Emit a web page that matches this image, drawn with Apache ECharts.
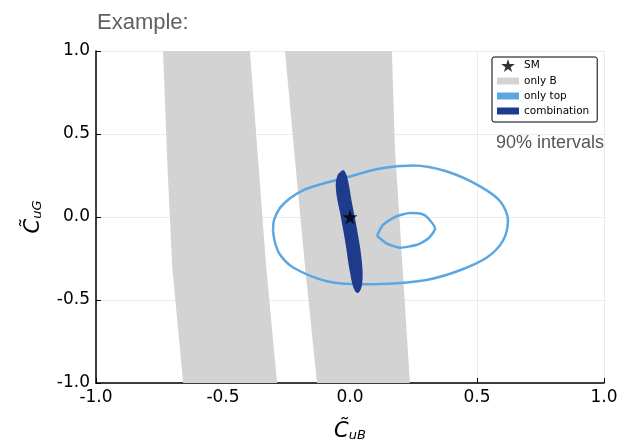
<!DOCTYPE html>
<html>
<head>
<meta charset="utf-8">
<script src="https://cdn.jsdelivr.net/npm/echarts@6/dist/echarts.min.js"></script>
<style>
  html, body { margin: 0; padding: 0; background: #fff; }
  #chart { width: 624px; height: 447px; }
</style>
</head>
<body>
<div id="chart"></div>
<script>
// tick values on both axes
var ticks = [-1.0, -0.5, 0.0, 0.5, 1.0];

// "only B" allowed regions (two slanted bands), outline vertices [x, y]
var bandLeft = [
    [-0.736, 1.0], [-0.720, 0.351], [-0.700, -0.300], [-0.657, -1.0],
    [-0.287, -1.0], [-0.330, -0.300], [-0.362, 0.351], [-0.394, 1.0]
];
var bandRight = [
    [-0.256, 1.0], [-0.217, 0.351], [-0.177, -0.300], [-0.130, -1.0],
    [0.236, -1.0], [0.197, -0.065], [0.177, 0.410], [0.165, 1.0]
];

// "only top" 90% contours
var topOuter = [
    [-0.303, -0.083], [-0.299, -0.018], [-0.276, 0.054], [-0.236, 0.113],
    [-0.185, 0.161], [-0.118, 0.196], [-0.028, 0.232], [0.118, 0.292],
    [0.248, 0.310], [0.382, 0.274], [0.512, 0.185], [0.591, 0.095],
    [0.622, -0.018], [0.602, -0.143], [0.539, -0.244], [0.433, -0.321],
    [0.315, -0.375], [0.185, -0.399], [0.039, -0.405], [-0.091, -0.387],
    [-0.224, -0.304], [-0.276, -0.226], [-0.295, -0.155], [-0.303, -0.083]
];
var topInner = [
    [0.106, -0.113], [0.130, -0.048], [0.177, 0.000], [0.236, 0.024],
    [0.283, 0.018], [0.307, -0.006], [0.335, -0.071], [0.307, -0.131],
    [0.264, -0.167], [0.197, -0.185], [0.146, -0.161], [0.106, -0.113]
];

// combination region
var combo = [
    [-0.031, 0.280], [-0.051, 0.244], [-0.055, 0.161], [-0.039, 0.024],
    [-0.020, -0.137], [0.000, -0.333], [0.016, -0.435], [0.031, -0.458],
    [0.047, -0.411], [0.047, -0.274], [0.028, -0.077], [0.008, 0.083],
    [-0.008, 0.220], [-0.020, 0.274]
];

// Standard Model point
var smPoint = [[0.0, 0.0]];

var grayCol = '#d3d3d3';
var lightBlue = '#5aa7e3';
var darkBlue = '#1f3c8c';
var starPath = 'path://M50,0 L61,35 L98,35 L68,57 L79,91 L50,70 L21,91 L32,57 L2,35 L39,35 Z';
var boxPath = 'path://M0,0 L22,0 L22,7 L0,7 Z';

function polygonSeries(name, pts, fill, smooth, z) {
    return {
        name: name,
        type: 'custom',
        clip: true,
        z: z,
        data: pts,
        renderItem: function(params, api) {
            if (params.dataIndex != 0) return;
            var points = pts.map(function(p) { return api.coord(p); });
            return {
                type: 'polygon',
                shape: {points: points, smooth: smooth},
                style: {fill: fill, stroke: null}
            };
        }
    };
}

function axisCommon() {
    return {
        type: 'value',
        min: -1,
        max: 1,
        interval: 0.5,
        axisLine: {onZero: false, lineStyle: {color: '#000', width: 1.5}},
        axisTick: {inside: true, length: 5, lineStyle: {color: '#000'}},
        splitLine: {show: true, lineStyle: {color: '#ebebeb', width: 1}},
        axisLabel: {
            color: '#000',
            fontSize: 17,
            fontFamily: 'DejaVu Sans',
            margin: 6,
            formatter: function(v) { return v.toFixed(1); }
        },
        nameLocation: 'middle',
        nameTextStyle: {
            color: '#000',
            rich: {
                c: {fontSize: 21, fontStyle: 'italic', fontFamily: 'DejaVu Sans', color: '#000'},
                s: {fontSize: 13, fontStyle: 'italic', fontFamily: 'DejaVu Sans', color: '#000',
                    verticalAlign: 'bottom', padding: [8, 0, 0, 0]}
            }
        }
    };
}

var xAxis = axisCommon();
xAxis.name = '{c|C\u0303}{s|uB}';
xAxis.nameGap = 38;

var yAxis = axisCommon();
yAxis.name = '{c|C\u0303}{s|uG}';
yAxis.nameGap = 52;

var myChart = echarts.init(document.getElementById('chart'));
myChart.setOption({
    animation: false,
    title: {
        text: 'Example:',
        left: 92,
        top: 7,
        textStyle: {color: '#606060', fontSize: 22, fontWeight: 'normal', fontFamily: 'Liberation Sans'}
    },
    grid: {left: 96, right: 20, top: 51, bottom: 60},
    xAxis: xAxis,
    yAxis: yAxis,
    legend: {
        orient: 'vertical',
        left: 492,
        top: 57,
        padding: [2, 8, 5, 5],
        itemGap: 3,
        itemWidth: 22,
        itemHeight: 13,
        borderColor: '#000',
        borderWidth: 1,
        borderRadius: 2,
        backgroundColor: '#fff',
        textStyle: {fontSize: 10.5, color: '#000', fontFamily: 'DejaVu Sans', lineHeight: 12},
        data: [
            {name: 'SM', icon: starPath, itemStyle: {color: '#000'}},
            {name: 'only B', icon: boxPath, itemStyle: {color: grayCol}},
            {name: 'only top', icon: boxPath, itemStyle: {color: lightBlue, borderWidth: 0}},
            {name: 'combination', icon: boxPath, itemStyle: {color: darkBlue}}
        ]
    },
    graphic: [{
        type: 'text',
        right: 20,
        top: 134,
        style: {text: '90% intervals', fill: '#555', fontSize: 18, fontFamily: 'Liberation Sans'}
    }],
    series: [
        polygonSeries('only B', bandLeft, grayCol, 0, 1),
        polygonSeries('only B', bandRight, grayCol, 0, 1),
        {
            name: 'only top', type: 'line', data: topOuter, smooth: 0.3,
            showSymbol: false, z: 2, color: lightBlue,
            lineStyle: {color: lightBlue, width: 2.5}
        },
        {
            name: 'only top', type: 'line', data: topInner, smooth: 0.2,
            showSymbol: false, z: 2, color: lightBlue,
            lineStyle: {color: lightBlue, width: 2.5}
        },
        polygonSeries('combination', combo, darkBlue, 0.4, 3),
        {
            name: 'SM', type: 'scatter', data: smPoint, symbol: starPath,
            symbolSize: 15, z: 4, itemStyle: {color: '#000'}
        }
    ]
});
</script>
</body>
</html>
